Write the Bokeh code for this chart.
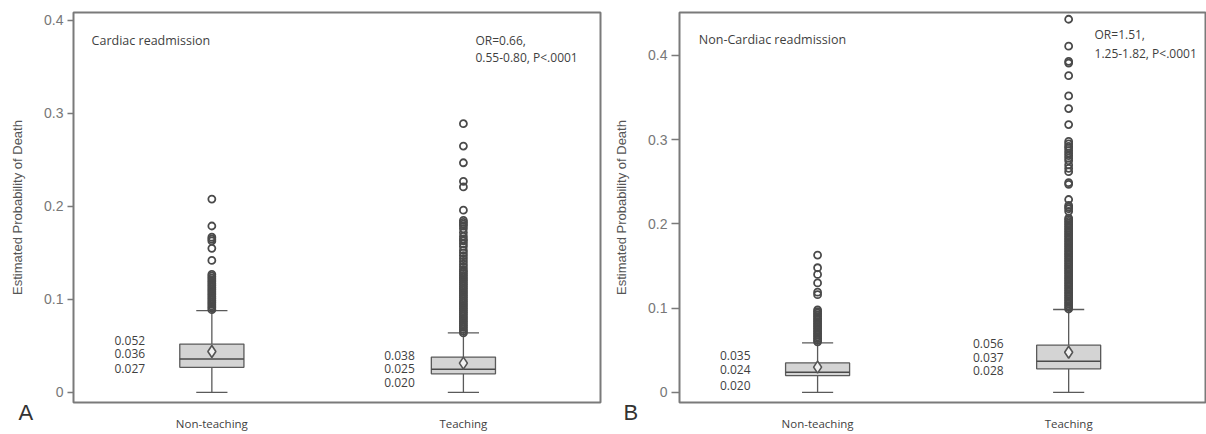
from bokeh.plotting import figure
from bokeh.layouts import row
from bokeh.models import Range1d, FixedTicker, Label, LinearAxis, Title
from bokeh.embed import file_html
from bokeh.resources import INLINE

categories = ["Non-teaching", "Teaching"]
cat_pos = [1, 2]

# Panel A: Cardiac readmission
a_q1 = [0.027, 0.020]
a_med = [0.036, 0.025]
a_q3 = [0.052, 0.038]
a_mean = [0.044, 0.0315]
a_lo = [0.0, 0.0]
a_hi = [0.088, 0.064]
a_out_nonteach = [0.208, 0.179, 0.167, 0.165, 0.163, 0.155, 0.142, 0.127, 0.125, 0.123,
                  0.121, 0.119, 0.117, 0.115, 0.113, 0.111, 0.109, 0.107, 0.105, 0.103,
                  0.101, 0.099, 0.097, 0.095, 0.093, 0.091, 0.089]
a_out_teach = [0.289, 0.265, 0.247, 0.227, 0.221, 0.196, 0.185, 0.183, 0.181, 0.179,
               0.176, 0.172, 0.168, 0.165, 0.163, 0.160, 0.157, 0.153, 0.150, 0.147,
               0.144, 0.141, 0.138, 0.135, 0.132, 0.130, 0.128, 0.126, 0.124, 0.122,
               0.120, 0.118, 0.116, 0.114, 0.112, 0.110, 0.108, 0.106, 0.104, 0.102,
               0.100, 0.098, 0.096, 0.094, 0.092, 0.090, 0.088, 0.086, 0.084, 0.082,
               0.080, 0.078, 0.076, 0.074, 0.072, 0.070, 0.068, 0.066, 0.064]
a_title = "Cardiac readmission"
a_or = ["OR=0.66,", "0.55-0.80, P<.0001"]

# Panel B: Non-Cardiac readmission
b_q1 = [0.020, 0.028]
b_med = [0.024, 0.037]
b_q3 = [0.035, 0.056]
b_mean = [0.030, 0.0476]
b_lo = [0.0, 0.0]
b_hi = [0.0587, 0.0984]
b_out_nonteach = [0.163, 0.148, 0.140, 0.130, 0.119, 0.116, 0.098, 0.096, 0.094, 0.092,
                  0.090, 0.088, 0.086, 0.084, 0.082, 0.080, 0.078, 0.076, 0.074, 0.072,
                  0.070, 0.068, 0.066, 0.064, 0.062, 0.060]
b_out_teach = [0.443, 0.411, 0.393, 0.391, 0.376, 0.352, 0.337, 0.318, 0.298, 0.295,
               0.292, 0.290, 0.287, 0.284, 0.281, 0.278, 0.275, 0.270, 0.266, 0.262,
               0.249, 0.247, 0.229, 0.222, 0.220, 0.218, 0.215, 0.207, 0.205, 0.203,
               0.201, 0.199, 0.197, 0.195, 0.193, 0.191, 0.189, 0.187, 0.185, 0.183,
               0.181, 0.179, 0.177, 0.175, 0.173, 0.171, 0.169, 0.167, 0.165, 0.163,
               0.161, 0.159, 0.157, 0.155, 0.153, 0.151, 0.149, 0.147, 0.145, 0.143,
               0.141, 0.139, 0.137, 0.135, 0.133, 0.131, 0.129, 0.127, 0.125, 0.123,
               0.121, 0.119, 0.117, 0.115, 0.113, 0.111, 0.109, 0.107, 0.105, 0.103,
               0.101, 0.099]
b_title = "Non-Cardiac readmission"
b_or = ["OR=1.51,", "1.25-1.82, P<.0001"]

y_ticks = [0, 0.1, 0.2, 0.3, 0.4]
y_tick_labels = ["0", "0.1", "0.2", "0.3", "0.4"]

GRAY = "#7a7a7a"
TXT = "#3f3f3f"
FONT = "Open Sans"


def make_panel(q1, med, q3, mean, lo, hi, outs, title, or_lines, letter,
               y_end, y_start, border_left, border_right, tick_out,
               stat_x, stat_y, or_xy, title_xy, letter_offset):
    p = figure(width=603, height=434, output_backend="svg", toolbar_location=None,
               x_range=Range1d(0.45, 2.545), y_range=Range1d(y_start, y_end),
               min_border_left=border_left, min_border_right=border_right,
               min_border_top=12, min_border_bottom=32, x_axis_location=None)
    p.background_fill_color = "white"
    p.border_fill_color = "white"
    p.outline_line_color = GRAY
    p.outline_line_width = 2
    p.xgrid.visible = False
    p.ygrid.visible = False

    # y axis
    p.yaxis.ticker = FixedTicker(ticks=y_ticks)
    p.yaxis.major_label_overrides = {t: l for t, l in zip(y_ticks, y_tick_labels)}
    p.yaxis.axis_line_color = None
    p.yaxis.major_tick_out = tick_out
    p.yaxis.major_tick_in = 0
    p.yaxis.major_tick_line_color = GRAY
    p.yaxis.major_tick_line_width = 1.5
    p.yaxis.minor_tick_line_color = None
    p.yaxis.major_label_text_font = "Liberation Sans"
    p.yaxis.major_label_text_font_size = "14px"
    p.yaxis.major_label_text_color = "#777777"
    p.yaxis.major_label_standoff = 4
    p.yaxis.axis_label = "Estimated Probability of Death"
    p.yaxis.axis_label_text_font = "Liberation Sans"
    p.yaxis.axis_label_text_font_size = "13px"
    p.yaxis.axis_label_text_font_style = "normal"
    p.yaxis.axis_label_text_color = "#555555"
    p.yaxis.axis_label_standoff = 16

    # panel letter, placed just under the frame, then the category axis
    letter_title = Title(text=letter, align="left", offset=letter_offset, standoff=-7,
                         vertical_align="middle", text_font="Liberation Sans",
                         text_font_size="22px", text_font_style="normal",
                         text_color="#333333")
    xaxis = LinearAxis(ticker=FixedTicker(ticks=cat_pos),
                       major_label_overrides={c: n for c, n in zip(cat_pos, categories)})
    xaxis.axis_line_color = None
    xaxis.major_tick_out = 0
    xaxis.major_tick_in = 0
    xaxis.minor_tick_line_color = None
    xaxis.major_label_text_font = FONT
    xaxis.major_label_text_font_size = "11.5px"
    xaxis.major_label_text_color = TXT
    xaxis.major_label_standoff = -7
    p.below = [letter_title, xaxis]

    bw = 0.255
    cw = 0.124
    # whiskers
    p.segment(x0=cat_pos, y0=q3, x1=cat_pos, y1=hi, line_color="#5a5a5a", line_width=1.3)
    p.segment(x0=cat_pos, y0=lo, x1=cat_pos, y1=q1, line_color="#5a5a5a", line_width=1.3)
    p.segment(x0=[c - cw / 2 for c in cat_pos], y0=hi, x1=[c + cw / 2 for c in cat_pos], y1=hi,
              line_color="#5a5a5a", line_width=1.3)
    p.segment(x0=[c - cw / 2 for c in cat_pos], y0=lo, x1=[c + cw / 2 for c in cat_pos], y1=lo,
              line_color="#5a5a5a", line_width=1.3)
    # boxes
    p.vbar(x=cat_pos, width=bw, bottom=q1, top=q3, fill_color="#d4d4d4",
           line_color="#5a5a5a", line_width=1.3)
    p.segment(x0=[c - bw / 2 for c in cat_pos], y0=med, x1=[c + bw / 2 for c in cat_pos], y1=med,
              line_color="#4a4a4a", line_width=1.5)
    # outliers
    for c, o in zip(cat_pos, outs):
        p.scatter(x=[c] * len(o), y=o, marker="circle", size=7, fill_color=None,
                  line_color="#4a4a4a", line_width=1.8)
    # mean
    p.scatter(x=cat_pos, y=mean, marker="diamond", size=12, fill_color="#f2f2f2",
              line_color="#555555", line_width=1.6)

    # stat labels
    for i in range(2):
        for v, yy in zip([q3[i], med[i], q1[i]], stat_y[i]):
            p.add_layout(Label(x=stat_x[i], y=yy, text=f"{v:.3f}", text_font=FONT,
                               text_font_size="12px", text_color=TXT,
                               text_baseline="middle", text_align="left"))
    p.add_layout(Label(x=title_xy[0], y=title_xy[1], text=title, text_font=FONT,
                       text_font_size="12.5px", text_color=TXT, text_baseline="middle"))
    for line, yy in zip(or_lines, or_xy[1]):
        p.add_layout(Label(x=or_xy[0], y=yy, text=line, text_font=FONT,
                           text_font_size="12px", text_color=TXT, text_baseline="middle"))
    return p


pA = make_panel(a_q1, a_med, a_q3, a_mean, a_lo, a_hi, [a_out_nonteach, a_out_teach],
                a_title, a_or, "A", 0.4086, -0.0108, 73, 3, 6,
                stat_x=[0.613, 1.685],
                stat_y=[[0.056, 0.042, 0.026], [0.040, 0.026, 0.011]],
                or_xy=(2.048, [0.3785, 0.360]), title_xy=(0.522, 0.3785),
                letter_offset=-55)
pB = make_panel(b_q1, b_med, b_q3, b_mean, b_lo, b_hi, [b_out_nonteach, b_out_teach],
                b_title, b_or, "B", 0.451, -0.012, 76, 1, 8,
                stat_x=[0.611, 1.619],
                stat_y=[[0.044, 0.027, 0.008], [0.058, 0.042, 0.026]],
                or_xy=(2.103, [0.425, 0.402]), title_xy=(0.527, 0.419),
                letter_offset=-56)

layout = row(pA, pB, spacing=0)
open("out.html", "w").write(file_html(layout, INLINE))
